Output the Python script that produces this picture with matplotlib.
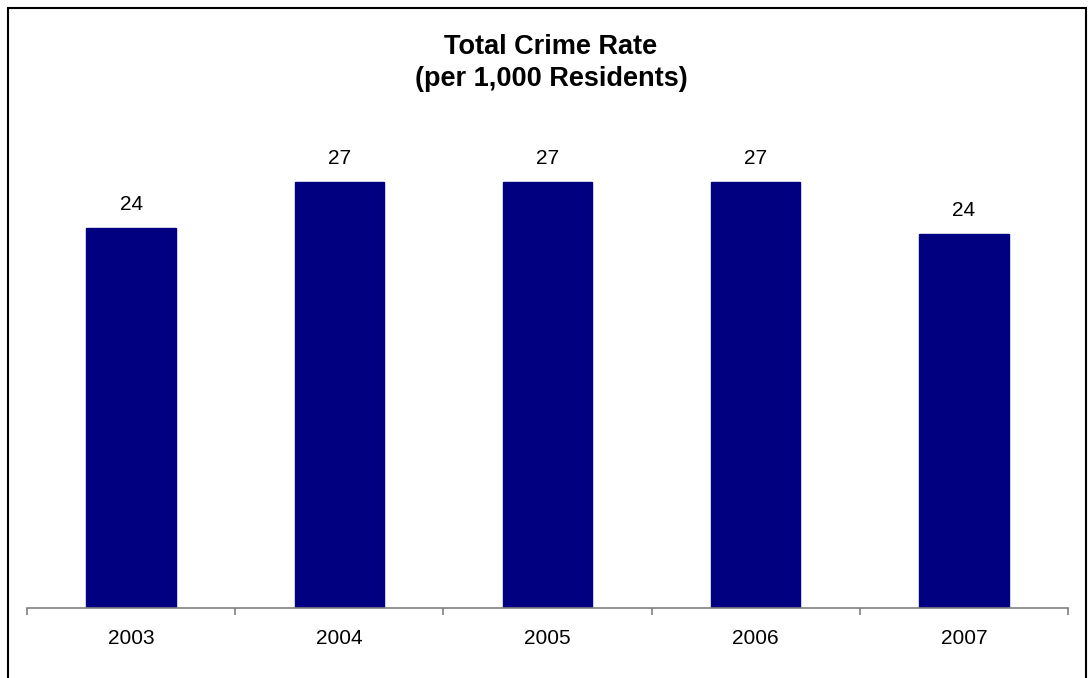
import matplotlib.pyplot as plt
from matplotlib.patches import Rectangle

# Data
years = ['2003', '2004', '2005', '2006', '2007']
rates = [24.1, 27.0, 27.0, 27.0, 23.7]
labels = ['24', '27', '27', '27', '24']

plt.rcParams['font.family'] = ['Liberation Sans', 'DejaVu Sans']

W, H = 1089, 678
fig = plt.figure(figsize=(W / 100, H / 100), dpi=100)

# axes placed in pixel terms
ax = fig.add_axes([27 / W, (H - 608) / H, 1041 / W, 478 / H])
x = range(len(years))
ax.bar(x, rates, width=0.43, color='#000080', edgecolor='#000080')
ax.set_xlim(-0.5, len(years) - 0.5)
ax.set_ylim(0, 30.3)

for xi, v, lab in zip(x, rates, labels):
    ax.text(xi, v + 0.9, lab, ha='center', va='bottom', fontsize=15)

for side in ['left', 'right', 'top']:
    ax.spines[side].set_visible(False)
ax.spines['bottom'].set_color('#808080')
ax.spines['bottom'].set_linewidth(1.2)
ax.set_yticks([])
ax.set_xticks(list(x))
ax.set_xticklabels(years, fontsize=15)
ax.tick_params(axis='x', which='major', length=0, pad=15)
ax.set_xticks([i - 0.5 for i in range(len(years) + 1)], minor=True)
ax.tick_params(axis='x', which='minor', length=5, color='#808080', width=1.2)

fig.text(551 / W, 1 - 47 / H, 'Total Crime Rate', ha='center', va='center',
         fontsize=19.5, fontweight='bold')
fig.text(551 / W, 1 - 79 / H, '(per 1,000 Residents)', ha='center', va='center',
         fontsize=19.5, fontweight='bold')

# outer frame
fig.patches.append(Rectangle((7.5 / W, -0.05), (1086 - 7.5) / W, 1.05 - 7.5 / H,
                             transform=fig.transFigure, fill=False,
                             edgecolor='black', linewidth=1.5))

fig.savefig('out.png', dpi=100)
